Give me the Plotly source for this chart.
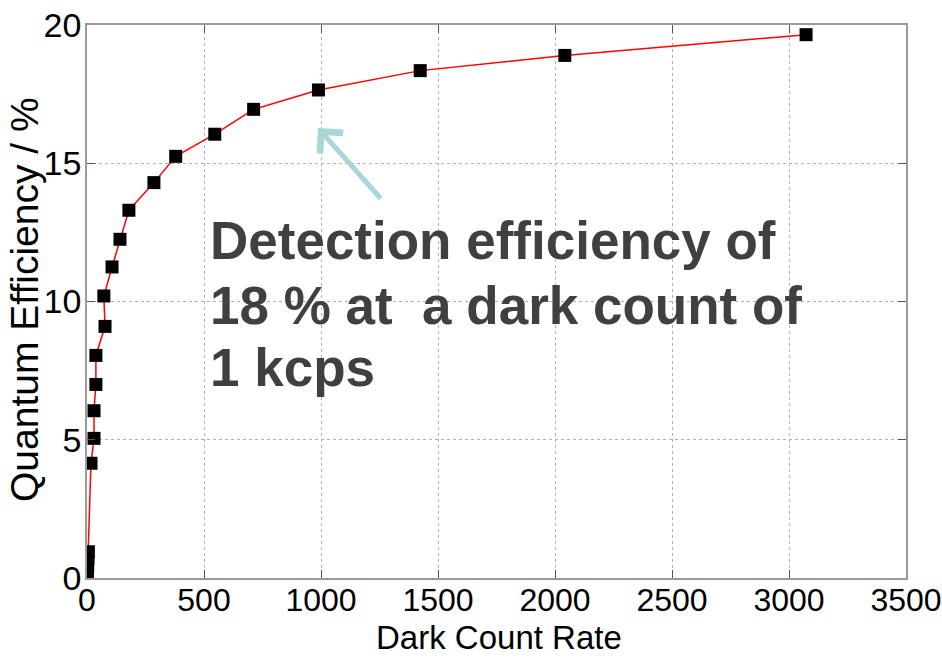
import plotly.graph_objects as go

# Data
dark_count = [2, 3, 4, 6, 17, 30, 30, 38, 38, 77, 72, 107, 141, 179, 286, 379,
              546, 712, 989, 1424, 2042, 3073]
efficiency = [0.2, 0.45, 0.7, 0.95, 4.15, 5.05, 6.05, 7.0, 8.05, 9.1, 10.2, 11.25,
              12.25, 13.3, 14.3, 15.25, 16.05, 16.95, 17.65, 18.35, 18.9, 19.65]
x_ticks = [0, 500, 1000, 1500, 2000, 2500, 3000, 3500]
y_ticks = [0, 5, 10, 15, 20]
note_lines = ["Detection efficiency of", "18 % at\u00a0\u00a0a dark count of", "1 kcps"]

W, H = 942, 664
L, R, T, B = 87, 36, 25, 86
pw, ph = W - L - R, H - T - B


def px_x(p):
    return (p - L) / pw


def px_y(p):
    return (H - B - p) / ph


fig = go.Figure()
fig.add_trace(go.Scatter(
    x=dark_count, y=efficiency, mode="lines+markers",
    line=dict(color="#ff0000", width=1.5),
    marker=dict(symbol="square", size=13, color="black"),
    showlegend=False,
))

axis_common = dict(
    showgrid=True, gridcolor="#b0b0b0", griddash="dot", gridwidth=1,
    showline=True, linecolor="#9a9a9a", linewidth=1.5, mirror="ticks",
    ticks="inside", ticklen=8, tickcolor="#555555", tickwidth=1,
    zeroline=False, automargin=False,
)

fig.update_layout(
    width=W, height=H,
    margin=dict(l=L, r=R, t=T, b=B, autoexpand=False),
    paper_bgcolor="white", plot_bgcolor="white",
    xaxis=dict(range=[0, 3500], tickvals=x_ticks, ticklabeloverflow="allow",
               ticklabelstandoff=-7,
               tickfont=dict(family="Liberation Sans, Arial", size=32, color="black"),
               **axis_common),
    yaxis=dict(range=[0, 20], tickvals=y_ticks, ticklabelstandoff=-3,
               tickfont=dict(family="Liberation Sans, Arial", size=34, color="black"),
               **axis_common),
)

annotations = []
# axis titles
annotations.append(dict(
    text="Quantum Efficiency / %", textangle=-90, showarrow=False,
    xref="paper", yref="paper", x=px_x(24), y=px_y(300), xanchor="center", yanchor="middle",
    font=dict(family="Liberation Sans, Arial", size=39, color="black"),
))
annotations.append(dict(
    text="Dark Count Rate", showarrow=False,
    xref="paper", yref="paper", x=px_x(499), y=px_y(637), xanchor="center", yanchor="middle",
    font=dict(family="Liberation Sans, Arial", size=33, color="black"),
))
# note text
centers = [240.5, 305.5, 367.5]
for line, cy in zip(note_lines, centers):
    annotations.append(dict(
        text=line, showarrow=False,
        xref="paper", yref="paper", x=px_x(208), y=px_y(cy), xanchor="left", yanchor="middle",
        font=dict(family="Liberation Sans, Arial", size=53, color="#404040", weight="bold"),
    ))
# arrow
annotations.append(dict(
    text="", showarrow=True, arrowhead=4, arrowsize=1.2, arrowwidth=5,
    arrowcolor="#a9d6d8",
    xref="paper", yref="paper", x=px_x(318), y=px_y(128), ax=64, ay=72,
))
fig.update_layout(annotations=annotations)

fig.write_html("out.html")
